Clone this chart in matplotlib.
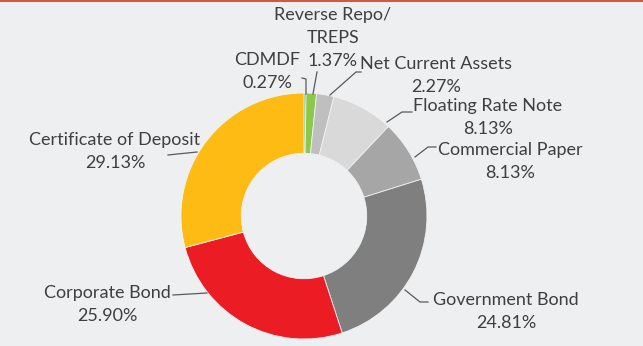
import matplotlib
matplotlib.use("Agg")
import matplotlib.pyplot as plt

# dados do gráfico (sentido horário a partir do topo)
categorias = ["CDMDF", "Reverse Repo/\nTREPS", "Net Current Assets", "Floating Rate Note",
              "Commercial Paper", "Government Bond", "Corporate Bond", "Certificate of Deposit"]
valores = [0.27, 1.37, 2.27, 8.13, 8.13, 24.81, 25.90, 29.13]
cores = ["#3a9e35", "#8cc84b", "#bfbfbf", "#d9d9d9", "#a6a6a6", "#7f7f7f", "#ec1c24", "#fdbb13"]

# posições dos rótulos em pixels (x, centro da 1a linha a partir de cima) e linhas de chamada
rotulos_pos = [(267, 60), (333, 15), (436, 64), (488, 106), (510, 150), (506, 300), (107, 293), (115, 140)]
linhas = [
    [(306, 94), (306, 79), (302, 78)],
    [(313, 94), (317, 72)],
    [(330, 95), (356, 72), (361, 72)],
    [(387, 122), (402, 112), (412, 112)],
    [(415, 157), (428, 147), (436, 147)],
    [(405, 290), (420, 302), (428, 302)],
    [(207, 293), (173, 295)],
    [(197, 152), (168, 155)],
]

W, H = 643, 346
BG = "#eeeff1"
TXT = "#3f3f3f"
PASSO = 23  # espaçamento entre linhas do rótulo, px

fig = plt.figure(figsize=(W / 100, H / 100), dpi=100, facecolor=BG)
ax = fig.add_axes([0, 0, 1, 1])
ax.set_facecolor(BG)

cx, cy, R = 304, H - 216, 123
ax.pie(valores, colors=cores, startangle=90, counterclock=False, radius=R, center=(cx, cy),
       wedgeprops=dict(width=R * 0.49, edgecolor="#f2f2f2", linewidth=0.6), frame=True)
ax.set_xlim(0, W)
ax.set_ylim(0, H)
ax.set_aspect("equal")
ax.axis("off")

for nome, v, (x, y) in zip(categorias, valores, rotulos_pos):
    partes = nome.split("\n") + [f"{v:.2f}%"]
    for i, parte in enumerate(partes):
        ax.text(x, H - (y + i * PASSO), parte, ha="center", va="center",
                fontsize=13, color=TXT, family="Lato")

for pts in linhas:
    xs = [p[0] for p in pts]
    ys = [H - p[1] for p in pts]
    ax.plot(xs, ys, color="#595959", lw=0.9)

# faixa superior
fig.add_artist(plt.Rectangle((0, 1 - 2 / H), 1, 2 / H, transform=fig.transFigure,
                             color="#d2583f", lw=0))

fig.savefig("out.png", dpi=100, facecolor=BG)
